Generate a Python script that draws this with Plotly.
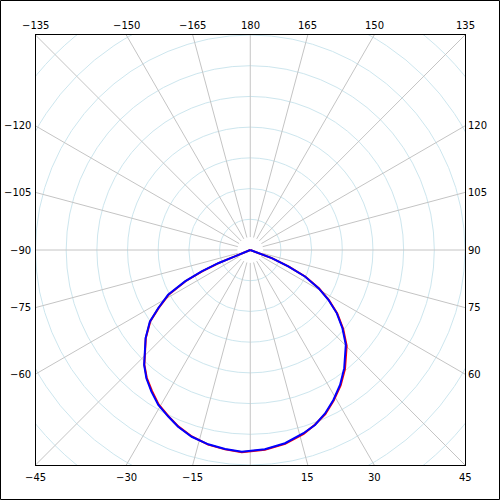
import numpy as np
import plotly.graph_objects as go

# ---- data (angle in degrees, 0 at bottom, counter-clockwise;
#      radius in grid-ring units) ----
theta_deg = [-69.0, -67.5, -67.6, -66.2, -64.3, -61.4, -57.7, -54.5, -49.9, -42.7, -39.0,
             -34.9, -30.7, -26.2, -22.2, -17.4, -12.2, -7.2, -2.4, 4.2, 10.2, 16.2, 20.3,
             24.6, 29.0, 33.7, 38.5, 45.2, 49.7, 53.9, 57.5, 60.8, 64.2, 66.6, 69.4, 72.0]
r_blue = [0.00, 0.54, 1.13, 1.73, 2.36, 3.05, 3.55, 4.02, 4.46, 5.10, 5.38,
          5.63, 5.87, 6.05, 6.22, 6.38, 6.48, 6.54, 6.58, 6.51, 6.40, 6.22, 6.08,
          5.86, 5.59, 5.28, 4.92, 4.39, 3.94, 3.49, 3.02, 2.55, 1.98, 1.35, 0.75, 0.00]
r_red = [0.00, 0.52, 1.10, 1.70, 2.33, 3.02, 3.53, 4.00, 4.45, 5.09, 5.36,
         5.60, 5.85, 6.04, 6.21, 6.37, 6.49, 6.55, 6.60, 6.53, 6.42, 6.24, 6.07,
         5.88, 5.61, 5.31, 4.96, 4.43, 3.97, 3.51, 3.04, 2.57, 2.00, 1.37, 0.77, 0.00]

label_angles = [-165, -150, -135, -120, -105, -90, -75, -60, -45, -30, -15,
                15, 30, 45, 60, 75, 90, 105, 120, 135, 150, 165, 180]
label_text = ["\u2212165", "\u2212150", "\u2212135", "\u2212120", "\u2212105", "\u221290",
              "\u221275", "\u221260", "\u221245", "\u221230", "\u221215",
              "15", "30", "45", "60", "75", "90", "105", "120", "135", "150", "165", "180"]
ring_radii = [1, 2, 3, 4, 5, 6, 7, 8, 9, 10]
spoke_angles = list(range(0, 360, 15))

R = 7.0  # half-width of the square frame in ring units
FONT = dict(family="DejaVu Sans", size=10, color="black")
dom_x = [35.5 / 500, 465.0 / 500]
dom_y = [1 - 465.0 / 500, 1 - 35.0 / 500]

fig = go.Figure()

# data traces on a polar subplot aligned with the square frame
fig.add_trace(go.Scatterpolar(theta=theta_deg, r=r_red, mode="lines",
                              line=dict(color="#ff0000", width=2), showlegend=False,
                              hoverinfo="skip"))
fig.add_trace(go.Scatterpolar(theta=theta_deg, r=r_blue, mode="lines",
                              line=dict(color="#0000ff", width=2), showlegend=False,
                              hoverinfo="skip"))

# invisible cartesian trace to establish the frame axes
fig.add_trace(go.Scatter(x=[None], y=[None], mode="markers", showlegend=False, hoverinfo="skip"))

shapes = []
# rings
for k in ring_radii:
    shapes.append(dict(type="circle", xref="x", yref="y", x0=-k, y0=-k, x1=k, y1=k,
                       line=dict(color="#cde6ee", width=1), layer="below"))
# spokes
for a in spoke_angles:
    t = np.deg2rad(a)
    dx, dy = np.sin(t), -np.cos(t)
    shapes.append(dict(type="line", xref="x", yref="y",
                       x0=0.42 * dx, y0=0.42 * dy, x1=11 * dx, y1=11 * dy,
                       line=dict(color="#c4c4c4", width=1), layer="below"))
# outer border
shapes.append(dict(type="rect", xref="paper", yref="paper",
                   x0=0.5 / 500, y0=0.5 / 500, x1=499.5 / 500, y1=499.5 / 500,
                   line=dict(color="black", width=1), layer="above"))

annotations = []
for a, txt in zip(label_angles, label_text):
    t = np.deg2rad(a)
    dx, dy = np.sin(t), -np.cos(t)
    s = R / max(abs(dx), abs(dy))
    x = float(np.clip(round(dx * s, 6), -R, R))
    y = float(np.clip(round(dy * s, 6), -R, R))
    ann = dict(x=x, y=y, xref="x", yref="y", text=txt, showarrow=False, font=FONT,
               borderpad=0, borderwidth=0)
    if abs(a) >= 135:
        ann.update(xanchor="center", yanchor="middle", yshift=10)
    elif abs(a) <= 45:
        ann.update(xanchor="center", yanchor="middle", yshift=-12)
    elif a < 0:
        ann.update(xanchor="right", yanchor="middle", xshift=-5)
    else:
        ann.update(xanchor="left", yanchor="middle", xshift=3)
    annotations.append(ann)

axis_common = dict(range=[-R, R], showgrid=False, zeroline=False, showticklabels=False,
                   ticks="", showline=True, mirror=True, linecolor="black", linewidth=1,
                   fixedrange=True)

fig.update_layout(
    width=500, height=500, autosize=False,
    margin=dict(l=0, r=0, t=0, b=0, pad=0),
    paper_bgcolor="white", plot_bgcolor="white",
    xaxis=dict(domain=dom_x, **axis_common),
    yaxis=dict(domain=dom_y, **axis_common),
    polar=dict(
        domain=dict(x=dom_x, y=dom_y),
        bgcolor="rgba(0,0,0,0)",
        radialaxis=dict(range=[0, R], visible=False, showgrid=False, showline=False),
        angularaxis=dict(rotation=-90, direction="counterclockwise", showgrid=False,
                         showline=False, showticklabels=False, ticks=""),
    ),
    shapes=shapes,
    annotations=annotations,
    showlegend=False,
)

fig.write_html("out.html", config={"displayModeBar": False},
               post_script="document.body.style.margin='0px';"
                           "document.body.style.overflow='hidden';")
